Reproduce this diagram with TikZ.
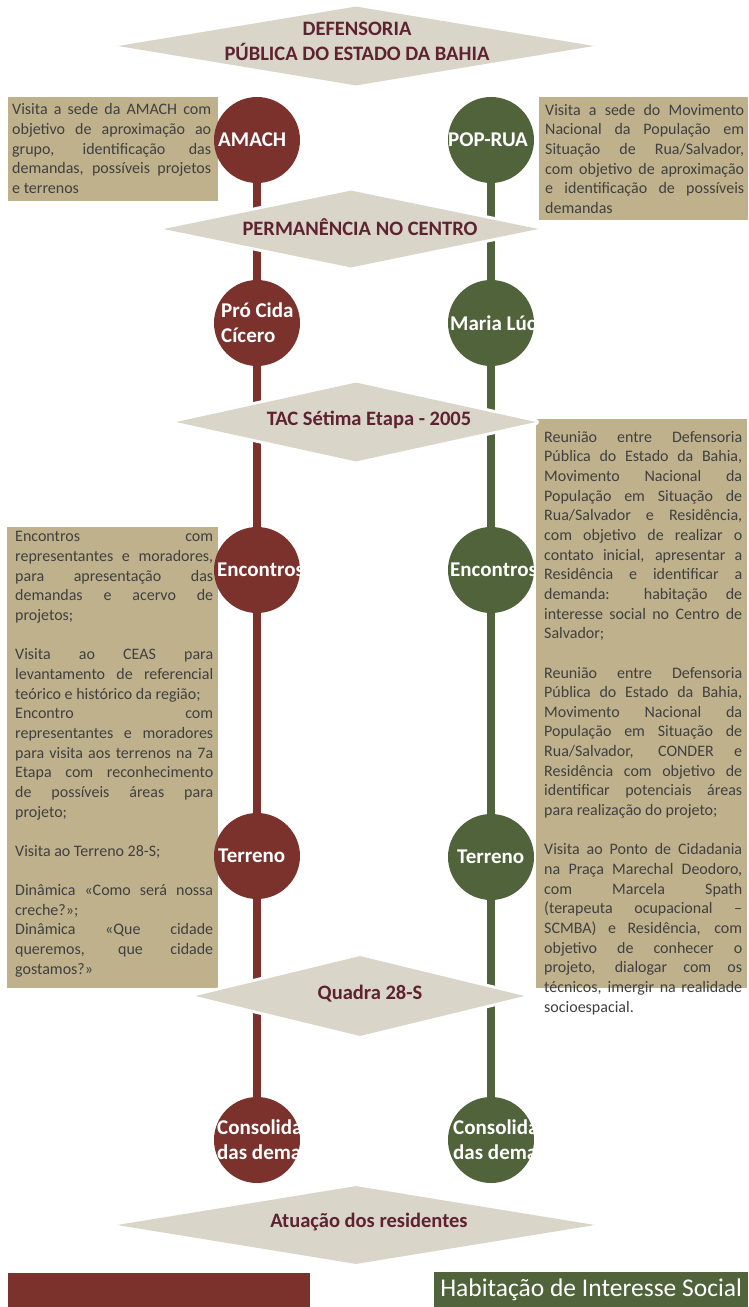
\documentclass[tikz,border=0pt]{standalone}
\usepackage{fontspec}
\setmainfont{Carlito}
\usepackage{tikz}
\usetikzlibrary{positioning, shapes.geometric}

\definecolor{marsala}{HTML}{7B322D}
\definecolor{oliva}{HTML}{50633A}
\definecolor{areia}{HTML}{BEB18C}
\definecolor{cinza}{HTML}{D9D5C9}
\definecolor{vinho}{HTML}{5E2230}
\definecolor{texto}{HTML}{404040}

\begin{document}
\begin{tikzpicture}[x=1pt, y=-1pt,
  marco/.style={circle, minimum size=86pt, inner sep=0pt},
  marcotxt/.style={rectangle, minimum size=0pt, anchor=west, inner sep=0pt, text=white, align=left, font=\fontsize{21}{25}\selectfont\bfseries},
  etapa/.style={diamond, fill=cinza, inner sep=0pt, preaction={draw=white, line width=6pt, line join=round}},
  etapatxt/.style={text=vinho, align=center, inner sep=0pt, font=\fontsize{20.5}{25}\selectfont\bfseries},
  caixa/.style={rectangle, fill=areia, inner sep=0pt, anchor=north west},
  caixatxt/.style={anchor=north west, inner sep=0pt, text width=198pt, align=justify, text=texto, font=\fontsize{16}{19.65}\selectfont},
  trilhaA/.style={draw=marsala, line width=7.5pt},
  trilhaB/.style={draw=oliva, line width=7.5pt}]

\useasboundingbox (0,0) rectangle (748,1307);

% caixas de texto
\node[caixa, minimum width=210pt, minimum height=104pt] (caixaL1) at (8,97) {};
\node[caixa, minimum width=209pt, minimum height=123pt] (caixaR1) at (539,97) {};
\node[caixa, minimum width=211pt, minimum height=461pt] (caixaL2) at (7,527) {};
\node[caixa, minimum width=211pt, minimum height=569pt] (caixaR2) at (536,419) {};

\node[caixatxt, text width=199pt] (txtL1) at (12,103.5) {Visita a sede da AMACH com\linebreak objetivo de aproximação ao\linebreak grupo, identificação das\linebreak demandas, possíveis projetos\linebreak e terrenos};
\node[caixatxt, text width=199pt] (txtR1) at (545,104) {Visita a sede do Movimento\linebreak Nacional da População em\linebreak Situação de Rua/Salvador,\linebreak com objetivo de aproximação\linebreak e identificação de possíveis\linebreak demandas};
\node[caixatxt] (txtL2) at (15,531.5) {Encontros com\linebreak representantes e moradores,\linebreak para apresentação das\linebreak demandas e acervo de\linebreak projetos;\\[19.65pt]
Visita ao CEAS para\linebreak levantamento de referencial\linebreak teórico e histórico da região;\\
Encontro com\linebreak representantes e moradores\linebreak para visita aos terrenos na 7a\linebreak Etapa com reconhecimento\linebreak de possíveis áreas para\linebreak projeto;\\[19.65pt]
Visita ao Terreno 28-S;\\[19.65pt]
Dinâmica «Como será nossa\linebreak creche?»;\\
Dinâmica «Que cidade\linebreak queremos, que cidade\linebreak gostamos?»};
\node[caixatxt] (txtR2) at (544,431) {Reunião entre Defensoria\linebreak Pública do Estado da Bahia,\linebreak Movimento Nacional da\linebreak População em Situação de\linebreak Rua/Salvador e Residência,\linebreak com objetivo de realizar o\linebreak contato inicial, apresentar a\linebreak Residência e identificar a\linebreak demanda: habitação de\linebreak interesse social no Centro de\linebreak Salvador;\\[19.65pt]
Reunião entre Defensoria\linebreak Pública do Estado da Bahia,\linebreak Movimento Nacional da\linebreak População em Situação de\linebreak Rua/Salvador, CONDER e\linebreak Residência com objetivo de\linebreak identificar potenciais áreas\linebreak para realização do projeto;\\[19.65pt]
Visita ao Ponto de Cidadania\linebreak na Praça Marechal Deodoro,\linebreak com Marcela Spath\linebreak (terapeuta ocupacional –\linebreak SCMBA) e Residência, com\linebreak objetivo de conhecer o\linebreak projeto, dialogar com os\linebreak técnicos, imergir na realidade\linebreak socioespacial.};

% marcos
\node[marco, fill=marsala, path picture={\node[marcotxt] at ([xshift=4pt]path picture bounding box.west) {AMACH};}] (amach) at (257,140) {};
\node[marco, fill=oliva, path picture={\node[marcotxt] at ([xshift=0pt]path picture bounding box.west) {POP-RUA};}] (poprua) at (491,140) {};
\node[marco, fill=marsala, path picture={\node[marcotxt] at ([xshift=7pt]path picture bounding box.west) {Pró Cida\\Cícero};}] (procida) at (257,323) {};
\node[marco, fill=oliva, path picture={\node[marcotxt] at ([xshift=2pt]path picture bounding box.west) {Maria Lúcia};}] (marialucia) at (491,323) {};
\node[marco, fill=marsala, path picture={\node[marcotxt] at ([xshift=3pt]path picture bounding box.west) {Encontros};}] (encontrosA) at (257,570) {};
\node[marco, fill=oliva, path picture={\node[marcotxt] at ([xshift=2pt]path picture bounding box.west) {Encontros};}] (encontrosB) at (491,570) {};
\node[marco, fill=marsala, path picture={\node[marcotxt] at ([xshift=4pt]path picture bounding box.west) {Terreno};}] (terrenoA) at (257,856) {};
\node[marco, fill=oliva, path picture={\node[marcotxt] at ([xshift=9pt]path picture bounding box.west) {Terreno};}] (terrenoB) at (491,857) {};
\node[marco, fill=marsala, path picture={\node[marcotxt] at ([xshift=3pt]path picture bounding box.west) {Consolidação\\das demandas};}] (consolidaA) at (257,1140) {};
\node[marco, fill=oliva, path picture={\node[marcotxt] at ([xshift=5pt]path picture bounding box.west) {Consolidação\\das demandas};}] (consolidaB) at (491,1140) {};

% trilhas
\draw[trilhaA] (amach) -- (procida);
\draw[trilhaA] (procida) -- (encontrosA);
\draw[trilhaA] (encontrosA) -- (terrenoA);
\draw[trilhaA] (terrenoA) -- (consolidaA);
\draw[trilhaB] (poprua) -- (marialucia);
\draw[trilhaB] (marialucia) -- (encontrosB);
\draw[trilhaB] (encontrosB) -- (terrenoB);
\draw[trilhaB] (terrenoB) -- (consolidaB);

% etapas
\node[etapa, minimum width=476pt, minimum height=79pt] (defensoria) at (356,46) {};
\node[etapatxt] (defensoria-t) at (357,41) {DEFENSORIA\\PÚBLICA DO ESTADO DA BAHIA};
\node[etapa, minimum width=375pt, minimum height=77pt] (permanencia) at (351,229) {};
\node[etapatxt] (permanencia-t) at (360,227) {PERMANÊNCIA NO CENTRO};
\node[etapa, minimum width=360pt, minimum height=79pt] (tac) at (356,422) {};
\node[etapatxt] (tac-t) at (369,420) {TAC Sétima Etapa - 2005};
\node[etapa, minimum width=329pt, minimum height=80pt] (quadra) at (360,996) {};
\node[etapatxt] (quadra-t) at (370,994) {Quadra 28-S};
\node[etapa, minimum width=478pt, minimum height=78pt] (atuacao) at (356,1225) {};
\node[etapatxt] (atuacao-t) at (369,1222) {Atuação dos residentes};

% barras
\node[caixa, fill=marsala, minimum width=302pt, minimum height=34pt] (barraA) at (8,1273) {};
\node[caixa, fill=oliva, minimum width=314pt, minimum height=35pt, text=white, font=\fontsize{25.5}{30}\selectfont] (barraB) at (434,1272) {Habitação de Interesse Social};
\end{tikzpicture}
\end{document}
